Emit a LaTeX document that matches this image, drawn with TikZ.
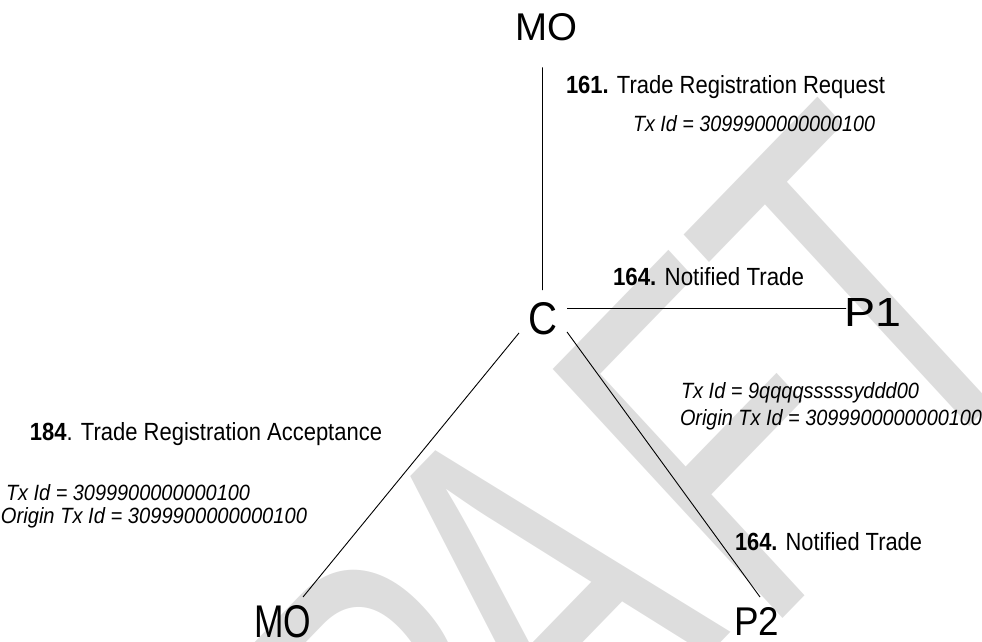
\documentclass[tikz,border=0pt]{standalone}
\usepackage{fontspec}
\setmainfont{Liberation Sans}
\usepackage{graphicx}
\definecolor{wm}{RGB}{221,221,221}
\newcommand\fitbox[3]{\resizebox{#1pt}{#2pt}{#3}}
\begin{document}
\begin{tikzpicture}[x=1pt,y=-1pt,
  lbl/.style={anchor=base west, inner sep=0pt, outer sep=0pt},
  conn/.style={line width=0.9pt, black}]
\useasboundingbox (0,0) rectangle (982,641);
% watermark
\begin{scope}
\clip (0,0) rectangle (982,641);
\begin{scope}[cm={2.368,2.439,-3.34,3.62,(263.8,1153)}]
\node[lbl, transform shape, text=wm] (wm) at (0,0)
  {\fontsize{100}{120}\selectfont D\kern0.066em\raisebox{0.047em}{R}\kern-0.123em\raisebox{0.057em}{A}\kern0.057em FT};
\end{scope}
\end{scope}
% participants
\node[lbl] (topMO) at (515,40) {\fitbox{62}{27}{MO}};
\node[lbl] (C) at (528,334) {\fitbox{29}{32}{C}};
\node[lbl] (P1) at (844,326) {\fitbox{57}{28}{P1}};
\node[lbl] (P2) at (734,635) {\fitbox{45}{28}{P2}};
\node[lbl] (botMO) at (254,637) {\fitbox{57}{32}{MO}};
% messages
\node[lbl] (req) at (566,93) {\fitbox{319}{18}{\textbf{161.} Trade Registration Request}};
\node[lbl] (reqtx) at (633,131) {\fitbox{242}{16}{\itshape Tx Id = 3099900000000100}};
\node[lbl] (nt1) at (613,285) {\fitbox{191}{18}{\textbf{164.} Notified Trade}};
\node[lbl] (rtx1) at (681,398) {\fitbox{238}{16}{\itshape Tx Id = 9qqqqsssssyddd00}};
\node[lbl] (rtx2) at (680,425) {\fitbox{302}{16}{\itshape Origin Tx Id = 3099900000000100}};
\node[lbl] (nt2) at (735,550) {\fitbox{187}{18}{\textbf{164.} Notified Trade}};
\node[lbl] (acc) at (30,440) {\fitbox{352}{18}{\textbf{184}. Trade Registration Acceptance}};
\node[lbl] (ltx1) at (6,500) {\fitbox{244}{16}{\itshape Tx Id = 3099900000000100}};
\node[lbl] (ltx2) at (1,523) {\fitbox{306}{16}{\itshape Origin Tx Id = 3099900000000100}};
% connectors
\draw[conn] ([shift={(-3.5,27)}]topMO.south) -- ([shift={(0,-12)}]C.north);
\draw[conn] ([shift={(10,-9.75)}]C.east) -- ([shift={(2,-3.5)}]P1.west);
\draw[conn] ([shift={(-9,-1.5)}]C.south west) -- ([shift={(20.5,-8)}]botMO.north);
\draw[conn] ([shift={(10,-2.5)}]C.south east) -- ([shift={(3.5,-10)}]P2.north);
\end{tikzpicture}
\end{document}
